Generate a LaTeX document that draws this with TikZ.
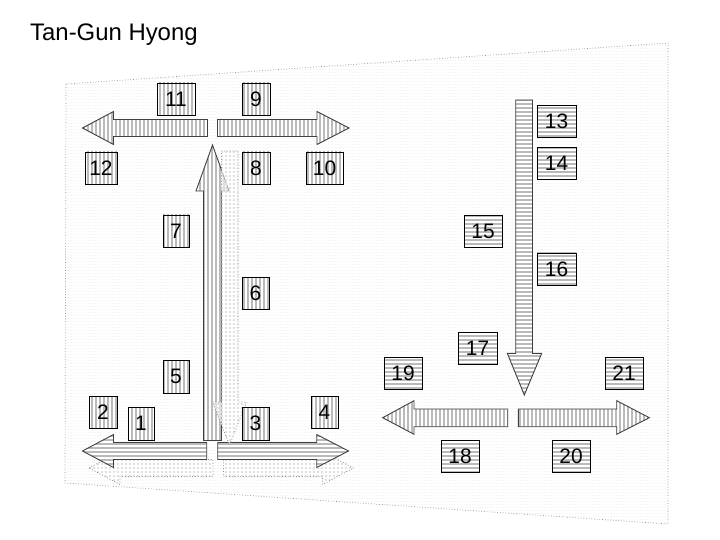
\documentclass[tikz,border=0pt]{standalone}
\usepackage{fontspec}
\setmainfont{Liberation Sans}
\usetikzlibrary{patterns.meta}
\tikzset{
  vstripe/.style={preaction={fill=white}, pattern={Lines[angle=90,distance=4bp,line width=1.6bp]}, pattern color=black!27},
  hstripe/.style={preaction={fill=white}, pattern={Lines[angle=0,distance=4bp,line width=1.6bp]}, pattern color=black!27},
  solidarrow/.style={draw=black!75, line width=0.9bp, line join=miter},
  ghostarrow/.style={draw=black!45, dotted, line width=0.8bp, preaction={fill=white, fill opacity=0.55}, pattern={Lines[angle=0,distance=4bp,line width=1.5bp]}, pattern color=black!12},
  plane/.style={draw=black!45, dotted, line width=0.7bp, preaction={fill=white}, pattern={Lines[angle=0,distance=3bp,line width=0.8bp]}, pattern color=black!4},
  numbox/.style={draw=black, line width=0.9bp, inner sep=0pt, minimum height=32bp, font=\fontsize{21}{22}\selectfont, text=black},
  vbox/.style={numbox, vstripe},
  hbox/.style={numbox, hstripe},
  titletext/.style={font=\fontsize{24}{28}\selectfont, anchor=base west, inner sep=0pt}
}
\begin{document}
\begin{tikzpicture}[x=1bp, y=-1bp]
\useasboundingbox (0,0) rectangle (720,540);

% floor plane
\path[plane] (66,84) -- (668,43) -- (668,524) -- (65,483) -- cycle;

% title
\node[titletext] (title) at (30,41) {Tan-Gun Hyong};

% ghost horizontal arrows (behind)
\path[ghostarrow] (89,468) -- (120,451.5) -- (120,459.5) -- (213,459.5) -- (213,476.5) -- (120,476.5) -- (120,484.5) -- cycle;
\path[ghostarrow] (353.5,468) -- (322.5,451.5) -- (322.5,459.5) -- (223.5,459.5) -- (223.5,476.5) -- (322.5,476.5) -- (322.5,484.5) -- cycle;

% upper horizontal arrows
\path[solidarrow, vstripe] (82.5,128) -- (113.5,111.5) -- (113.5,119.5) -- (207.5,119.5) -- (207.5,136.5) -- (113.5,136.5) -- (113.5,144.5) -- cycle;
\path[solidarrow, vstripe] (349,128) -- (317,111.5) -- (317,119.5) -- (217.5,119.5) -- (217.5,136.5) -- (317,136.5) -- (317,144.5) -- cycle;

% lower horizontal arrows (left column)
\path[solidarrow, hstripe] (82.5,451) -- (113.5,434.5) -- (113.5,442.5) -- (206.7,442.5) -- (206.7,459.5) -- (113.5,459.5) -- (113.5,467.5) -- cycle;
\path[solidarrow, hstripe] (348.5,451) -- (316.7,434.5) -- (316.7,442.5) -- (217.7,442.5) -- (217.7,459.5) -- (316.7,459.5) -- (316.7,467.5) -- cycle;

% up arrow
\path[solidarrow, vstripe] (212.5,145) -- (229,191) -- (221.5,191) -- (221.5,440.5) -- (203.5,440.5) -- (203.5,191) -- (196,191) -- cycle;

% ghost down arrow (on top, translucent)
\path[ghostarrow] (221.5,151) -- (238,151) -- (238,402) -- (246.5,402) -- (229.5,445) -- (212.5,402) -- (221.5,402) -- cycle;

% right column
\path[solidarrow, hstripe] (515.7,100) -- (532.5,100) -- (532.5,353.3) -- (541.7,353.3) -- (524.3,395) -- (507.3,353.3) -- (515.7,353.3) -- cycle;
\path[solidarrow, vstripe] (382.7,417.7) -- (414,400.7) -- (414,409) -- (507.7,409) -- (507.7,426.7) -- (414,426.7) -- (414,434.3) -- cycle;
\path[solidarrow, vstripe] (649.3,417.7) -- (616.7,400.7) -- (616.7,409) -- (518.3,409) -- (518.3,426.7) -- (616.7,426.7) -- (616.7,434.3) -- cycle;

% numbered boxes
\node[vbox, minimum width=26bp, minimum height=33bp] (b1) at (141,423.5) {1};
\node[vbox, minimum width=28bp] (b2) at (103,412) {2};
\node[vbox, minimum width=27bp, minimum height=33bp] (b3) at (255.5,423.5) {3};
\node[vbox, minimum width=27bp] (b4) at (324.5,412) {4};
\node[vbox, minimum width=26bp, minimum height=33bp] (b5) at (176,376.5) {5};
\node[vbox, minimum width=27bp] (b6) at (255.5,293) {6};
\node[vbox, minimum width=26bp] (b7) at (176,231) {7};
\node[vbox, minimum width=28bp] (b8) at (256,168) {8};
\node[vbox, minimum width=28bp] (b9) at (256,99) {9};
\node[vbox, minimum width=37bp] (b10) at (324.5,168) {10};
\node[vbox, minimum width=38bp] (b11) at (176,99) {11};
\node[vbox, minimum width=32bp] (b12) at (101,168) {12};
\node[hbox, minimum width=39bp] (b13) at (556.5,121.5) {13};
\node[hbox, minimum width=39bp] (b14) at (556.5,163) {14};
\node[hbox, minimum width=38bp] (b15) at (483,231.5) {15};
\node[hbox, minimum width=39bp] (b16) at (556.5,269) {16};
\node[hbox, minimum width=39bp] (b17) at (477.5,348.5) {17};
\node[hbox, minimum width=38bp] (b18) at (460,456) {18};
\node[hbox, minimum width=38bp] (b19) at (403,373) {19};
\node[hbox, minimum width=38bp] (b20) at (571,456) {20};
\node[hbox, minimum width=38bp] (b21) at (624,373) {21};
\end{tikzpicture}
\end{document}
